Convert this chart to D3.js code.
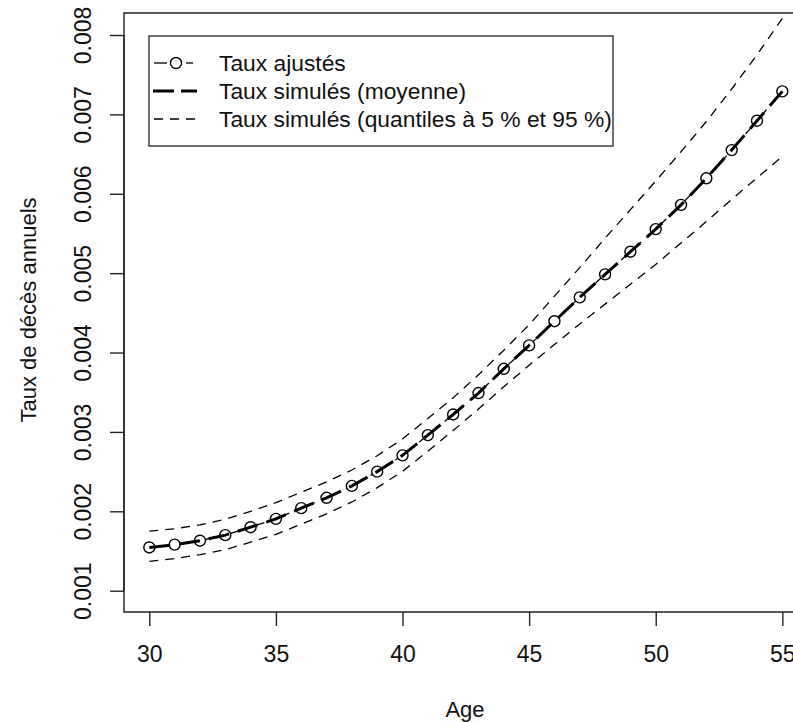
<!DOCTYPE html>
<html>
<head>
<meta charset="utf-8">
<script src="https://cdn.jsdelivr.net/npm/d3@7"></script>
<style>
  html, body { margin: 0; padding: 0; background: #fff; }
  svg { display: block; font-family: "Liberation Sans", Arial, sans-serif; }
</style>
</head>
<body>
<svg id="chart" width="793" height="722"></svg>
<script>
// ---- data ----
const ages = [30,31,32,33,34,35,36,37,38,39,40,41,42,43,44,45,46,47,48,49,50,51,52,53,54,55];
const tauxAjustes = [0.001545,0.001580,0.001630,0.001700,0.001800,0.001905,0.002040,0.002170,0.002320,0.002500,
                     0.002705,0.002960,0.003220,0.003490,0.003795,0.004090,0.004395,0.004695,0.004985,0.005270,
                     0.005555,0.005860,0.006195,0.006550,0.006920,0.007290];
const tauxSimMoyenne = [0.001545,0.001580,0.001630,0.001700,0.001800,0.001905,0.002040,0.002170,0.002320,0.002500,
                        0.002705,0.002960,0.003220,0.003490,0.003795,0.004090,0.004395,0.004695,0.004985,0.005270,
                        0.005555,0.005860,0.006195,0.006550,0.006920,0.007290];
const quantile95 = [0.00175,0.00178,0.00183,0.00190,0.00200,0.00211,0.00224,0.00237,0.00252,0.00270,
                    0.00291,0.00317,0.00343,0.00372,0.00403,0.00435,0.00471,0.00507,0.00544,0.00580,
                    0.00616,0.00653,0.00691,0.00732,0.00775,0.00821];
const quantile05 = [0.001369,0.001404,0.001454,0.001517,0.001611,0.001710,0.001838,0.001968,0.002118,0.002298,
                    0.002503,0.002758,0.003018,0.003288,0.003570,0.003840,0.004100,0.004360,0.004610,0.004860,
                    0.005110,0.005380,0.005650,0.005930,0.006200,0.006470];
const xTicks = [30,35,40,45,50,55];
const yTicks = [0.001,0.002,0.003,0.004,0.005,0.006,0.007,0.008];
const legendLabels = ["Taux ajustés", "Taux simulés (moyenne)", "Taux simulés (quantiles à 5 % et 95 %)"];
const xTitle = "Age";
const yTitle = "Taux de décès annuels";

// ---- layout ----
const svg = d3.select("#chart");
const plotLeft = 124, plotTop = 13, plotBottom = 612;
const x = d3.scaleLinear().domain([29, 56]).range([plotLeft, plotLeft + 27 * 25.32]);
const y = d3.scaleLinear().domain([0.001, 0.008]).range([590.7, 35]);
const ink = "#222";

// quantile lines
const line = d3.line().x((d, i) => x(ages[i])).y(d => y(d)).curve(d3.curveLinear);
[quantile95, quantile05].forEach(q => {
  svg.append("path").attr("d", line(q))
    .attr("fill", "none").attr("stroke", "#000").attr("stroke-width", 1.3)
    .attr("stroke-dasharray", "9,7");
});

// fitted rates: type "b" (segments interrupted around points)
const r = 5.5;
for (let i = 0; i < ages.length - 1; i++) {
  const x0 = x(ages[i]), y0 = y(tauxAjustes[i]), x1 = x(ages[i+1]), y1 = y(tauxAjustes[i+1]);
  const L = Math.hypot(x1 - x0, y1 - y0);
  if (L <= 2 * r) continue;
  const ux = (x1 - x0) / L, uy = (y1 - y0) / L;
  svg.append("line")
    .attr("x1", x0 + ux * r).attr("y1", y0 + uy * r)
    .attr("x2", x1 - ux * r).attr("y2", y1 - uy * r)
    .attr("stroke", "#000").attr("stroke-width", 1.3).attr("stroke-dasharray", "9,7");
}

// simulated mean: thick dashed
svg.append("path").attr("d", line(tauxSimMoyenne))
  .attr("fill", "none").attr("stroke", "#000").attr("stroke-width", 3)
  .attr("stroke-dasharray", "21,9");

// points
svg.selectAll("circle.pt").data(tauxAjustes).enter().append("circle")
  .attr("class", "pt")
  .attr("cx", (d, i) => x(ages[i])).attr("cy", d => y(d)).attr("r", r)
  .attr("fill", "none").attr("stroke", "#000").attr("stroke-width", 1.4);

// box
svg.append("path")
  .attr("d", `M${x.range()[1] + 5},${plotTop}H${plotLeft}V${plotBottom}H${x.range()[1] + 5}`)
  .attr("fill", "none").attr("stroke", ink).attr("stroke-width", 1.4);

// x axis
const gx = svg.append("g").attr("transform", `translate(0,${plotBottom})`)
  .call(d3.axisBottom(x).tickValues(xTicks).tickSize(14).tickFormat(d3.format("d")));
gx.select(".domain").remove();
gx.selectAll(".tick line").attr("stroke", ink).attr("stroke-width", 1.4);
gx.selectAll(".tick text").attr("y", 49.7).attr("dy", 0)
  .attr("font-size", 23).attr("fill", "#111")
  .attr("font-family", "'Liberation Sans', Arial, sans-serif");

// y axis
const gy = svg.append("g").attr("transform", `translate(${plotLeft},0)`)
  .call(d3.axisLeft(y).tickValues(yTicks).tickSize(14).tickFormat(d3.format(".3f")));
gy.select(".domain").attr("d", `M0,${y(0.001)}V${y(0.008)}`).attr("stroke", ink).attr("stroke-width", 1.4);
gy.selectAll(".tick line").attr("stroke", ink).attr("stroke-width", 1.4);
gy.selectAll(".tick text")
  .attr("transform", "rotate(-90)")
  .attr("x", 0).attr("y", -33).attr("dy", 0)
  .attr("text-anchor", "middle")
  .attr("font-size", 23).attr("fill", "#111")
  .attr("font-family", "'Liberation Sans', Arial, sans-serif");

// axis titles
svg.append("text").attr("x", 465).attr("y", 717).attr("text-anchor", "middle")
  .attr("font-size", 22).attr("fill", "#111").text(xTitle);
svg.append("text").attr("transform", "translate(36,310) rotate(-90)")
  .attr("text-anchor", "middle").attr("font-size", 22).attr("fill", "#111").text(yTitle);

// legend
const leg = svg.append("g");
leg.append("rect").attr("x", 149).attr("y", 36).attr("width", 464).attr("height", 110)
  .attr("fill", "#fff").attr("stroke", ink).attr("stroke-width", 1.3);
const rowsY = [63, 91, 119];
// row 1: fitted (dashed with circle)
leg.append("line").attr("x1", 154).attr("x2", 170.5).attr("y1", rowsY[0]).attr("y2", rowsY[0])
  .attr("stroke", "#000").attr("stroke-width", 1.3).attr("stroke-dasharray", "13,6");
leg.append("line").attr("x1", 186).attr("x2", 198).attr("y1", rowsY[0]).attr("y2", rowsY[0])
  .attr("stroke", "#000").attr("stroke-width", 1.3).attr("stroke-dasharray", "7,5");
leg.append("circle").attr("cx", 176).attr("cy", rowsY[0]).attr("r", r)
  .attr("fill", "none").attr("stroke", "#000").attr("stroke-width", 1.4);
// row 2: mean thick dashed
leg.append("line").attr("x1", 153).attr("x2", 197).attr("y1", rowsY[1]).attr("y2", rowsY[1])
  .attr("stroke", "#000").attr("stroke-width", 3).attr("stroke-dasharray", "21,7");
// row 3: quantiles thin dashed
leg.append("line").attr("x1", 154).attr("x2", 197).attr("y1", rowsY[2]).attr("y2", rowsY[2])
  .attr("stroke", "#000").attr("stroke-width", 1.3).attr("stroke-dasharray", "9,7");
leg.selectAll("text.lab").data(legendLabels).enter().append("text")
  .attr("class", "lab").attr("x", 219).attr("y", (d, i) => rowsY[i]).attr("dy", "0.33em")
  .attr("font-size", 22.8).attr("fill", "#111").text(d => d);
</script>
</body>
</html>
